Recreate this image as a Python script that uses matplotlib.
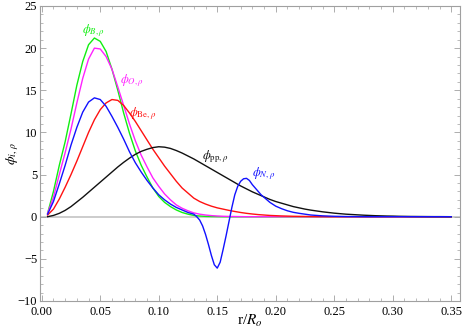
import matplotlib
matplotlib.use("Agg")
import matplotlib.pyplot as plt
from matplotlib.ticker import MultipleLocator, FuncFormatter
import numpy as np

plt.rcParams['font.family'] = ['Liberation Serif', 'DejaVu Serif']
plt.rcParams['mathtext.fontset'] = 'stix'

# radial grid (r / R_o)
r = [0.005, 0.010, 0.015, 0.020, 0.025, 0.030, 0.035, 0.040, 0.045, 0.050,
     0.055, 0.060, 0.065, 0.070, 0.075, 0.080, 0.085, 0.090, 0.095, 0.100,
     0.105, 0.110, 0.115, 0.120, 0.125, 0.130, 0.135, 0.140, 0.145, 0.150,
     0.155, 0.160, 0.165, 0.170, 0.175, 0.180, 0.185, 0.190, 0.195, 0.200,
     0.205, 0.210, 0.215, 0.220, 0.225, 0.230, 0.235, 0.240, 0.245, 0.250,
     0.255, 0.260, 0.265, 0.270, 0.275, 0.280, 0.285, 0.290, 0.295, 0.300,
     0.305, 0.310, 0.315, 0.320, 0.325, 0.330, 0.335, 0.340, 0.345, 0.350]

phi_B = [0.4, 3.0, 6.1, 8.9, 12.2, 15.6, 18.4, 20.4, 21.2, 20.8,
         19.6, 17.5, 15.0, 12.3, 9.9, 7.8, 6.1, 4.7, 3.4, 2.4,
         1.7, 1.2, 0.8, 0.5, 0.3, 0.15, 0.08, 0.04, 0.02, 0.01,
         0.0, 0.0, 0.0, 0.0, 0.0, 0.0, 0.0, 0.0, 0.0, 0.0,
         0.0, 0.0, 0.0, 0.0, 0.0, 0.0, 0.0, 0.0, 0.0, 0.0,
         0.0, 0.0, 0.0, 0.0, 0.0, 0.0, 0.0, 0.0, 0.0, 0.0,
         0.0, 0.0, 0.0, 0.0, 0.0, 0.0, 0.0, 0.0, 0.0, 0.0]

phi_O = [0.4, 2.3, 5.0, 7.6, 10.4, 13.5, 16.4, 18.7, 20.0, 19.9,
         19.0, 17.5, 15.4, 13.2, 11.0, 9.0, 7.3, 5.9, 4.6, 3.6,
         2.7, 2.0, 1.4, 1.0, 0.7, 0.45, 0.3, 0.2, 0.13, 0.08,
         0.05, 0.03, 0.02, 0.01, 0.0, 0.0, 0.0, 0.0, 0.0, 0.0,
         0.0, 0.0, 0.0, 0.0, 0.0, 0.0, 0.0, 0.0, 0.0, 0.0,
         0.0, 0.0, 0.0, 0.0, 0.0, 0.0, 0.0, 0.0, 0.0, 0.0,
         0.0, 0.0, 0.0, 0.0, 0.0, 0.0, 0.0, 0.0, 0.0, 0.0]

phi_Be = [0.2, 0.9, 2.1, 3.5, 5.0, 6.6, 8.3, 10.0, 11.5, 12.7,
          13.5, 13.9, 13.8, 13.2, 12.3, 11.3, 10.2, 9.1, 8.0, 7.0,
          6.0, 5.1, 4.2, 3.4, 2.8, 2.2, 1.8, 1.5, 1.25, 1.05,
          0.9, 0.75, 0.62, 0.5, 0.4, 0.32, 0.25, 0.2, 0.15, 0.12,
          0.09, 0.07, 0.05, 0.04, 0.03, 0.02, 0.01, 0.01, 0.0, 0.0,
          0.0, 0.0, 0.0, 0.0, 0.0, 0.0, 0.0, 0.0, 0.0, 0.0,
          0.0, 0.0, 0.0, 0.0, 0.0, 0.0, 0.0, 0.0, 0.0, 0.0]

phi_pp = [0.0, 0.15, 0.4, 0.75, 1.2, 1.75, 2.3, 2.9, 3.5, 4.1,
          4.7, 5.3, 5.9, 6.45, 6.95, 7.4, 7.75, 8.0, 8.2, 8.3,
          8.25, 8.1, 7.85, 7.55, 7.2, 6.85, 6.45, 6.05, 5.65, 5.25,
          4.85, 4.45, 4.05, 3.65, 3.3, 2.95, 2.65, 2.35, 2.05, 1.8,
          1.6, 1.4, 1.2, 1.05, 0.9, 0.78, 0.68, 0.58, 0.5, 0.42,
          0.36, 0.3, 0.26, 0.22, 0.18, 0.15, 0.12, 0.1, 0.08, 0.07,
          0.05, 0.04, 0.03, 0.025, 0.02, 0.015, 0.01, 0.01, 0.005, 0.0]

# N13 has finer sampling around its oscillation
r_N = [0.005, 0.010, 0.015, 0.020, 0.025, 0.030, 0.035, 0.040, 0.045, 0.050,
       0.055, 0.060, 0.065, 0.070, 0.075, 0.080, 0.085, 0.090, 0.095, 0.100,
       0.105, 0.110, 0.115, 0.120, 0.125, 0.130, 0.1325, 0.135, 0.1375, 0.140,
       0.1425, 0.145, 0.1475, 0.150, 0.1525, 0.155, 0.1575, 0.160, 0.1625, 0.165,
       0.1675, 0.170, 0.1725, 0.175, 0.1775, 0.180, 0.1825, 0.185, 0.1875, 0.190,
       0.195, 0.200, 0.205, 0.210, 0.215, 0.220, 0.225, 0.230, 0.235, 0.240,
       0.250, 0.260, 0.280, 0.300, 0.350]
phi_N = [0.3, 1.8, 3.9, 6.1, 8.5, 10.6, 12.4, 13.6, 14.1, 13.9,
         13.1, 11.9, 10.6, 9.2, 7.7, 6.4, 5.3, 4.3, 3.4, 2.6,
         2.0, 1.5, 1.1, 0.8, 0.5, 0.3, 0.0, -0.4, -1.1, -2.1,
         -3.3, -4.6, -5.7, -6.1, -5.4, -3.9, -2.3, -0.6, 1.1, 2.6,
         3.6, 4.2, 4.5, 4.55, 4.3, 3.8, 3.4, 3.0, 2.6, 2.3,
         1.7, 1.25, 0.95, 0.7, 0.52, 0.4, 0.3, 0.2, 0.15, 0.1,
         0.05, 0.02, 0.0, 0.0, 0.0]

labels = [r'$\phi_{B,\rho}$', r'$\phi_{O,\rho}$', r'$\phi_{\mathrm{Be},\rho}$',
          r'$\phi_{\mathrm{pp},\rho}$', r'$\phi_{N,\rho}$']
label_pos = [(0.0442, 22.1), (0.0768, 16.1), (0.0862, 12.2), (0.148, 7.1), (0.190, 5.1)]
colors = ['#11ee11', '#ff22ff', '#ff1111', '#111111', '#1111ff']

fig = plt.figure(figsize=(4.63, 3.32), dpi=100)
ax = fig.add_axes([0.0864, 0.0934, 0.9071, 0.8886])

ax.axhline(0, color='#c8c8c8', lw=1.3, zorder=1)

series = [(r, phi_B), (r, phi_O), (r, phi_Be), (r, phi_pp), (r_N, phi_N)]
for (xs, ys), c in zip(series, colors):
    ax.plot(xs, ys, color=c, lw=1.0, zorder=3)

for lab, (lx, ly), c in zip(labels, label_pos, colors):
    ax.text(lx, ly, lab, color=c, fontsize=9, ha='center', va='center')

ax.set_xlim(-0.0015, 0.3575)
ax.set_ylim(-10, 25)
ax.xaxis.set_major_locator(MultipleLocator(0.05))
ax.xaxis.set_minor_locator(MultipleLocator(0.01))
ax.yaxis.set_major_locator(MultipleLocator(5))
ax.yaxis.set_minor_locator(MultipleLocator(1))
ax.xaxis.set_major_formatter(FuncFormatter(lambda v, p: f'{v:.2f}'))
ax.yaxis.set_major_formatter(FuncFormatter(lambda v, p: f'{int(round(v))}'.replace('-', '\u2212')))

for s in ax.spines.values():
    s.set_color('#a0a0a0')
    s.set_linewidth(0.8)
ax.tick_params(which='both', direction='in', top=True, right=True,
               color='#a0a0a0', labelsize=9, labelcolor='black')
ax.tick_params(axis='x', which='major', pad=3.5)
ax.tick_params(axis='y', which='major', pad=2)
ax.tick_params(which='major', length=4, width=0.6)
ax.tick_params(which='minor', length=2.2, width=0.5)
ax.tick_params(axis='x', labeltop=False)
ax.tick_params(axis='y', labelright=False)

ax.set_xlabel(r'r/$R_o$', fontsize=11)
ax.xaxis.set_label_coords(0.5, -0.04)
ax.set_ylabel(r'$\phi_{i,\,\rho}$', fontsize=10)
ax.yaxis.set_label_coords(-0.045, 0.5)

fig.savefig('out.png', dpi=100)
